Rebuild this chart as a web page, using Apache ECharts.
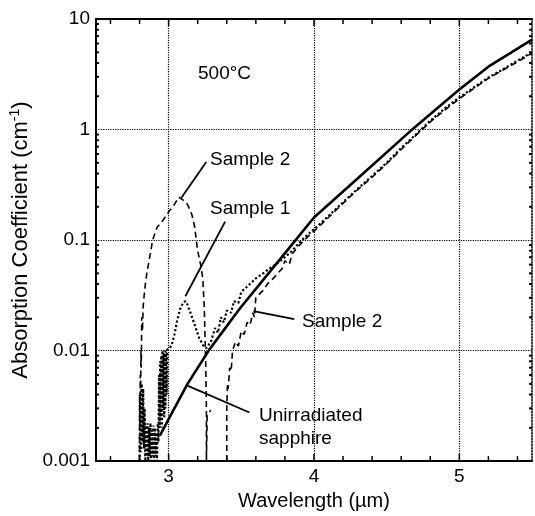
<!DOCTYPE html>
<html>
<head>
<meta charset="utf-8">
<script src="https://cdn.jsdelivr.net/npm/echarts@6/dist/echarts.min.js"></script>
<style>html,body{margin:0;padding:0;background:#fff}#c{width:535px;height:516px}</style>
</head>
<body>
<div id="c"></div>
<script>
// ---- data ----
const unirradiated = [[2.94,0.0017],[3.0,0.0024],[3.13,0.005],[3.28,0.0102],[3.49,0.024],[3.77,0.068],[4.0,0.16],[4.3,0.36],[4.69,1.04],[5.0,2.3],[5.2,3.7],[5.5,6.5]];

const sample1 = [[2.80,0.001],[2.805,0.004],[2.81,0.0012],[2.815,0.005],[2.82,0.0015],[2.825,0.0045],[2.83,0.0013],[2.835,0.003],
  [2.84,0.001],[2.845,0.0021],[2.85,0.0011],[2.855,0.0022],[2.86,0.001],[2.865,0.002],[2.87,0.0011],[2.875,0.0022],[2.88,0.001],[2.885,0.0019],[2.89,0.0011],[2.895,0.0021],[2.90,0.001],[2.905,0.002],[2.91,0.0011],[2.915,0.0018],[2.92,0.001],[2.925,0.0022],
  [2.93,0.0015],[2.934,0.006],[2.938,0.002],[2.942,0.008],[2.946,0.0025],[2.95,0.009],[2.954,0.002],[2.958,0.01],[2.962,0.003],[2.966,0.0095],[2.97,0.0025],[2.974,0.01],[2.978,0.003],[2.982,0.0098],[2.986,0.004],[2.99,0.0102],
  [3.0,0.01],[3.02,0.011],[3.04,0.014],[3.06,0.019],[3.08,0.024],[3.10,0.027],[3.115,0.028],[3.13,0.026],[3.15,0.022],[3.18,0.017],[3.21,0.013],[3.24,0.011],[3.26,0.0105],[3.29,0.012],[3.32,0.016],[3.34,0.0145],[3.36,0.02],[3.38,0.018],[3.40,0.023],[3.43,0.022],[3.45,0.028],[3.48,0.027],[3.5,0.034],[3.55,0.039],[3.6,0.045],[3.65,0.05],[3.7,0.056],[3.75,0.062],[3.8,0.07],[3.85,0.08],[3.9,0.095],[3.95,0.11],[4.0,0.125],[4.1,0.165],[4.2,0.22],[4.3,0.29],[4.4,0.38],[4.5,0.5],[4.6,0.68],[4.7,0.9],[4.8,1.2],[4.9,1.55],[5.0,1.95],[5.1,2.4],[5.2,2.95],[5.3,3.5],[5.4,4.2],[5.5,5.0]];

const sample2 = [[2.80,0.001],[2.80,0.004],[2.802,0.002],[2.805,0.006],[2.807,0.004],[2.81,0.01],[2.812,0.007],[2.815,0.02],[2.82,0.015],[2.825,0.025],[2.83,0.03],[2.84,0.04],[2.85,0.05],[2.87,0.07],[2.89,0.1],[2.92,0.13],[2.96,0.15],[3.0,0.18],[3.04,0.21],[3.07,0.245],[3.10,0.23],[3.13,0.21],[3.16,0.17],[3.18,0.13],[3.19,0.1],[3.2,0.08],[3.22,0.06],[3.235,0.045],[3.245,0.025],[3.25,0.014],[3.255,0.008],[3.26,0.003],[3.26,0.001],[3.265,0.0026],[3.29,0.0029],'-',
  [3.40,0.001],[3.40,0.003],[3.405,0.005],[3.41,0.0045],[3.42,0.007],[3.43,0.0065],[3.44,0.01],[3.46,0.012],[3.48,0.011],[3.5,0.015],[3.52,0.014],[3.54,0.018],[3.56,0.017],[3.58,0.022],[3.59,0.02],[3.6,0.03],[3.62,0.032],[3.65,0.035],[3.68,0.04],[3.72,0.045],[3.75,0.05],[3.78,0.055],[3.8,0.065],[3.83,0.06],[3.85,0.075],[3.9,0.09],[3.95,0.105],[4.0,0.12],[4.1,0.16],[4.2,0.215],[4.3,0.285],[4.4,0.37],[4.5,0.49],[4.6,0.66],[4.7,0.88],[4.8,1.17],[4.9,1.5],[5.0,1.9],[5.1,2.35],[5.2,2.9],[5.3,3.45],[5.4,4.1],[5.5,4.9]];

// annotation leader lines (data coordinates)
const leaderSample2Top = [[3.088,0.241],[3.259,0.508]];
const leaderSample1 = [[3.115,0.031],[3.389,0.147]];
const leaderSample2Right = [[3.584,0.0228],[3.864,0.0193]];
const leaderUnirr = [[3.129,0.00482],[3.556,0.00275]];

// axes / ticks
const xMin = 2.5, xMax = 5.5, yMin = 0.001, yMax = 10;
const xLabelValues = [3, 4, 5];
const xTickValues = [2.6,2.8,3.0,3.2,3.4,3.6,3.8,4.0,4.2,4.4,4.6,4.8,5.0,5.2,5.4];
const yTickLabels = ['0.001','0.01','0.1','1','10'];
const yDecades = [0.001, 0.01, 0.1, 1];
const yMinorMult = [2,3,4,5,6,7,8,9];
const gridX = [3, 4, 5];
const gridY = [0.01, 0.1, 1];

const FONT = 'Liberation Sans, Arial, Helvetica, sans-serif';
const yTickValues = [];
yDecades.forEach(d => yMinorMult.forEach(m => yTickValues.push(+(d*m).toPrecision(3))));

const chart = echarts.init(document.getElementById('c'), null, {renderer:'canvas'});

function xTickRender(params, api) {
  const v = api.value(0);
  const pb = api.coord([v, yMin]);
  const pt = api.coord([v, yMax]);
  const L = xLabelValues.indexOf(v) >= 0 ? 7 : 5;
  return {type:'group', children:[
    {type:'line', shape:{x1:pb[0], y1:pb[1], x2:pb[0], y2:pb[1]-L}, style:{stroke:'#000', lineWidth:1.5}},
    {type:'line', shape:{x1:pt[0], y1:pt[1], x2:pt[0], y2:pt[1]+L}, style:{stroke:'#000', lineWidth:1.5}}
  ]};
}
function yTickRender(params, api) {
  const v = api.value(1);
  const pl = api.coord([xMin, v]);
  const pr = api.coord([xMax, v]);
  const L = 3;
  return {type:'group', children:[
    {type:'line', shape:{x1:pl[0], y1:pl[1], x2:pl[0]+L, y2:pl[1]}, style:{stroke:'#000', lineWidth:2}},
    {type:'line', shape:{x1:pr[0], y1:pr[1], x2:pr[0]-L, y2:pr[1]}, style:{stroke:'#000', lineWidth:2}}
  ]};
}

function leader(d) {
  return {type:'line', data:d, symbol:'none', silent:true, z:5,
    lineStyle:{color:'#000', width:1.8, type:'solid'}, animation:false};
}

const option = {
  animation:false,
  backgroundColor:'#fff',
  grid:{left:94, right:2, top:19, bottom:52, containLabel:false},
  xAxis:[{
    type:'value', min:xMin, max:xMax, interval:0.5, position:'bottom',
    axisLine:{show:true, onZero:false, lineStyle:{color:'#000', width:2}},
    axisTick:{show:false}, splitLine:{show:false},
    axisLabel:{color:'#000', fontSize:19, fontFamily:FONT, margin:6,
      formatter: v => (xLabelValues.indexOf(Math.round(v*100)/100) >= 0 ? String(Math.round(v)) : '')},
    name:'Wavelength (µm)', nameLocation:'middle', nameGap:26,
    nameTextStyle:{color:'#000', fontSize:20, fontFamily:FONT}
  },{
    type:'value', min:xMin, max:xMax, position:'top',
    axisLine:{show:true, onZero:false, lineStyle:{color:'#000', width:2}},
    axisTick:{show:false}, splitLine:{show:false}, axisLabel:{show:false}
  }],
  yAxis:[{
    type:'log', logBase:10, min:yMin, max:yMax, position:'left',
    axisLine:{show:true, onZero:false, lineStyle:{color:'#000', width:2}},
    axisTick:{show:false}, splitLine:{show:false}, minorTick:{show:false},
    axisLabel:{color:'#000', fontSize:19, fontFamily:FONT, margin:6,
      formatter: v => { const e = Math.round(Math.log10(v)); return yTickLabels[e+3] || ''; }},
    name:'Absorption Coefficient (cm{sup|-1})', nameLocation:'middle', nameGap:48,
    nameTextStyle:{color:'#000', fontSize:22, fontFamily:FONT,
      rich:{sup:{fontSize:14, fontFamily:FONT, color:'#000', verticalAlign:'bottom', padding:[0,0,11,0]}}}
  },{
    type:'log', logBase:10, min:yMin, max:yMax, position:'right',
    axisLine:{show:true, onZero:false, lineStyle:{color:'#000', width:1.5, type:'dotted'}},
    axisTick:{show:false}, splitLine:{show:false}, axisLabel:{show:false}
  }],
  graphic:[
    {type:'text', style:{x:198, y:74, text:'500°C', fontSize:19, fontFamily:FONT, fill:'#000', verticalAlign:'middle'}},
    {type:'text', style:{x:210, y:160, text:'Sample 2', fontSize:19, fontFamily:FONT, fill:'#000', verticalAlign:'middle'}},
    {type:'text', style:{x:210, y:209, text:'Sample 1', fontSize:19, fontFamily:FONT, fill:'#000', verticalAlign:'middle'}},
    {type:'text', style:{x:302, y:322, text:'Sample 2', fontSize:19, fontFamily:FONT, fill:'#000', verticalAlign:'middle'}},
    {type:'text', style:{x:259, y:416, text:'Unirradiated', fontSize:19, fontFamily:FONT, fill:'#000', verticalAlign:'middle'}},
    {type:'text', style:{x:259, y:439, text:'sapphire', fontSize:19, fontFamily:FONT, fill:'#000', verticalAlign:'middle'}}
  ],
  series:[
    {type:'custom', name:'xticks', renderItem:xTickRender, data:xTickValues.map(v => [v, yMin]), silent:true, z:6, clip:false},
    {type:'custom', name:'yticks', renderItem:yTickRender, data:yTickValues.map(v => [xMin, v]), silent:true, z:6, clip:false},
    {type:'line', name:'Sample 1', data:sample1, symbol:'none', z:3,
      lineStyle:{color:'#000', width:2.2, type:'dotted'}},
    {type:'line', name:'Sample 2', data:sample2, symbol:'none', z:3, connectNulls:false,
      lineStyle:{color:'#000', width:1.6, type:[6,4]}},
    {type:'line', name:'Unirradiated sapphire', data:unirradiated, symbol:'none', z:4,
      lineStyle:{color:'#000', width:2.6, type:'solid'},
      markLine:{silent:true, symbol:['none','none'], label:{show:false},
        lineStyle:{color:'#000', width:1.2, type:'dotted'},
        data: gridX.map(v => ({xAxis:v})).concat(gridY.map(v => ({yAxis:v})))}},
    leader(leaderSample2Top), leader(leaderSample1), leader(leaderSample2Right), leader(leaderUnirr)
  ]
};
chart.setOption(option);
</script>
</body>
</html>
